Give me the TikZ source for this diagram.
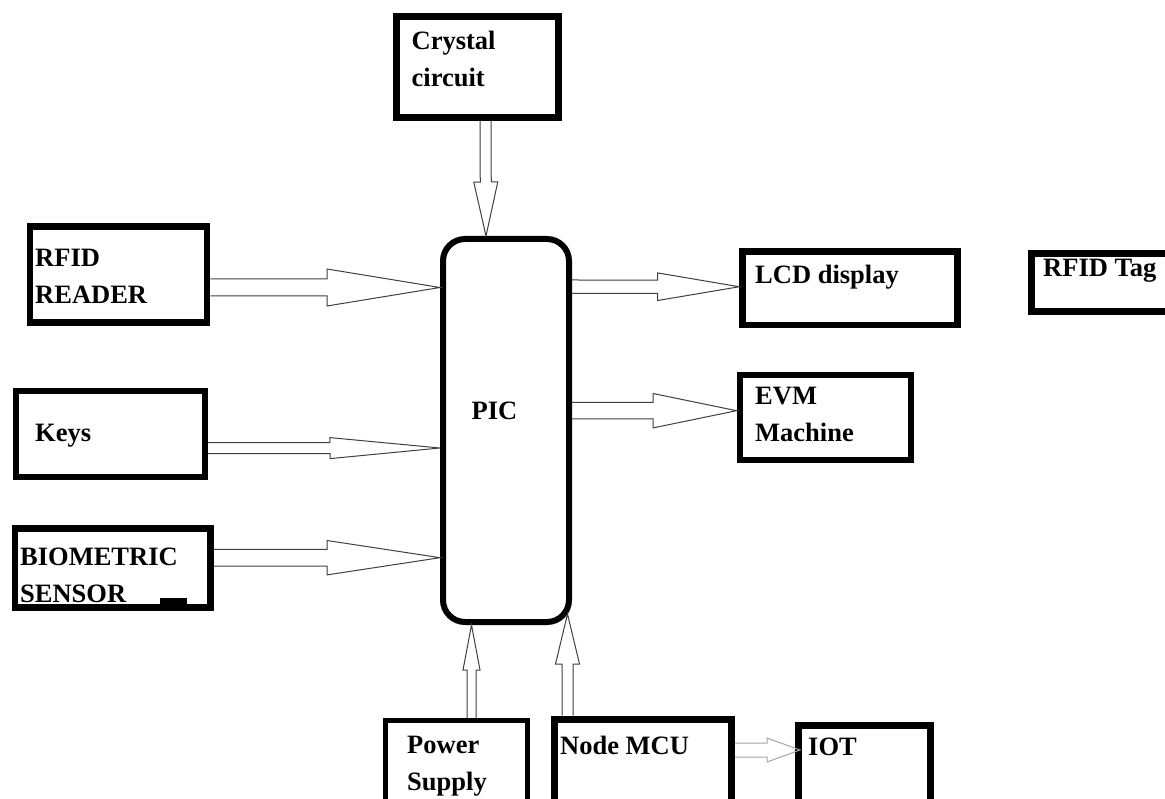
\documentclass[tikz,border=0pt]{standalone}
\usepackage{fontspec}
\setmainfont{Liberation Serif}
\usetikzlibrary{calc}
\tikzset{
  box/.style={draw, line width=6.5pt, inner sep=0pt},
  lbl/.style={anchor=base west, inner sep=0pt, align=left,
    font=\fontsize{26.5pt}{37pt}\selectfont\bfseries},
  hollow/.style n args={3}{to path={
    let \p1=(\tikztostart), \p2=(\tikztotarget),
        \n1={atan2(\y2-\y1,\x2-\x1)}, \n2={veclen(\x2-\x1,\y2-\y1)} in
    ($(\p1)+(\n1+90:#1pt)$)
    -- ($(\p1)+(\n1:{(\n2-#3)*1pt})+(\n1+90:#1pt)$)
    -- ($(\p1)+(\n1:{(\n2-#3)*1pt})+(\n1+90:#2pt)$)
    -- (\p2)
    -- ($(\p1)+(\n1:{(\n2-#3)*1pt})+(\n1-90:#2pt)$)
    -- ($(\p1)+(\n1:{(\n2-#3)*1pt})+(\n1-90:#1pt)$)
    -- ($(\p1)+(\n1-90:#1pt)$)
  }},
  arr/.style={draw=black!75, line width=1pt, line join=miter},
  garr/.style={draw=black!35, line width=1pt, line join=miter}
}
\begin{document}
\begin{tikzpicture}[x=1pt,y=-1pt]
\clip (0,0) rectangle (1165,799);
\fill[white] (0,0) rectangle (1165,799);

% boxes
\node[box, line width=7pt, minimum width=162pt, minimum height=101pt] (crystal) at (477.5,67) {};
\node[box, minimum width=177pt, minimum height=96pt] (rfid) at (118.5,274.5) {};
\node[box, line width=6pt, minimum width=189.5pt, minimum height=85.5pt] (keys) at (110.25,434.25) {};
\node[box, minimum width=195.5pt, minimum height=79pt] (bio) at (112.75,568) {};
\node[box, minimum width=215pt, minimum height=73.5pt] (lcd) at (850,288.25) {};
\node[box, line width=6pt, minimum width=171.5pt, minimum height=85pt] (evm) at (825.25,417.5) {};
\node[box, line width=7pt, minimum width=148.5pt, minimum height=58pt] (tag) at (1105.75,282.5) {};
\node[box, line width=5pt, minimum width=141.5pt, minimum height=109.5pt] (power) at (456.25,775.25) {};
\node[box, line width=7pt, minimum width=177pt, minimum height=111pt] (mcu) at (643,774.5) {};
\node[box, line width=7pt, minimum width=131.5pt, minimum height=105pt] (iot) at (864.25,777.5) {};
\node[box, line width=6pt, rounded corners=22pt, minimum width=126pt, minimum height=383pt] (pic) at (506,430.5) {};

\fill (160,598) rectangle (187,605);

% labels (base = baseline of the last line)
\node[lbl] (tcrystal) at (411.5,87) {Crystal\\circuit};
\node[lbl] (trfid) at (35,304) {RFID\\READER};
\node[lbl] (tkeys) at (35,441.5) {Keys};
\node[lbl] (tbio) at (20,602) {BIOMETRIC\\SENSOR};
\node[lbl] (tlcd) at (755,284) {LCD display};
\node[lbl] (tevm) at (755,442) {EVM\\Machine};
\node[lbl] (ttag) at (1043,277) {RFID Tag};
\node[lbl] (tpower) at (407,790) {Power\\Supply};
\node[lbl] (tmcu) at (560,754) {Node MCU};
\node[lbl] (tiot) at (808,755) {IOT};
\node[lbl] (tpic) at (471.5,419.3) {PIC};

% connectors
\draw[arr] ($(crystal.south)+(8,0)$) to[hollow={5.5}{12}{54}] ($(pic.north)+(-20,0)$);
\draw[arr] ($(rfid.east)+(0,13)$) to[hollow={8.5}{18.5}{113}] ($(pic.west)+(0,-143)$);
\draw[arr] ($(keys.east)+(0,14)$) to[hollow={5.5}{10.5}{110}] ($(pic.west)+(0,17.5)$);
\draw[arr] ($(bio.east)+(0,-10.3)$) to[hollow={8.3}{17.2}{113}] ($(pic.west)+(0,127.2)$);
\draw[arr] ($(pic.east)+(0,-143.8)$) to[hollow={6.7}{13.8}{81.6}] ($(lcd.west)+(0,-1.5)$);
\draw[arr] ($(pic.east)+(0,-19.8)$) to[hollow={8.3}{17.2}{83.4}] ($(evm.west)+(0,-6.8)$);
\draw[arr] ($(power.north)+(15.25,0)$) to[hollow={4.5}{8.5}{45}] ($(pic.south)+(-34.5,0)$);
\draw[arr] ($(mcu.north)+(-75.5,0)$) to[hollow={5.5}{12}{50}] ($(pic.south east)+(-4.5,-11)$);
\draw[garr] ($(mcu.east)+(0,-24.5)$) to[hollow={7}{12}{33}] ($(iot.west)+(5,-27.5)$);
\end{tikzpicture}
\end{document}
